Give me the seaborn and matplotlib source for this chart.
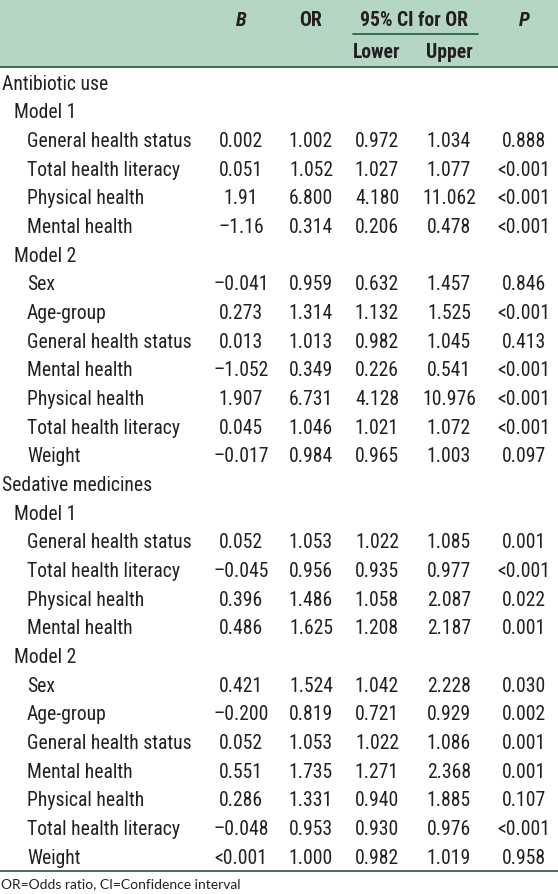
import numpy as np
import pandas as pd
import matplotlib
matplotlib.use("Agg")
import matplotlib.pyplot as plt
import seaborn as sns

# table content
M = "\u2013"   # long minus as in the print
row_labels = ["Antibiotic use", "Model 1",
              "General health status", "Total health literacy", "Physical health", "Mental health",
              "Model 2",
              "Sex", "Age-group", "General health status", "Mental health", "Physical health",
              "Total health literacy", "Weight",
              "Sedative medicines", "Model 1",
              "General health status", "Total health literacy", "Physical health", "Mental health",
              "Model 2",
              "Sex", "Age-group", "General health status", "Mental health", "Physical health",
              "Total health literacy", "Weight"]
row_level = [0, 1, 2, 2, 2, 2, 1, 2, 2, 2, 2, 2, 2, 2,
             0, 1, 2, 2, 2, 2, 1, 2, 2, 2, 2, 2, 2, 2]
col_B = ["", "", "0.002", "0.051", "1.91", M + "1.16", "",
         M + "0.041", "0.273", "0.013", M + "1.052", "1.907", "0.045", M + "0.017",
         "", "", "0.052", M + "0.045", "0.396", "0.486", "",
         "0.421", M + "0.200", "0.052", "0.551", "0.286", M + "0.048", "<0.001"]
col_OR = ["", "", "1.002", "1.052", "6.800", "0.314", "",
          "0.959", "1.314", "1.013", "0.349", "6.731", "1.046", "0.984",
          "", "", "1.053", "0.956", "1.486", "1.625", "",
          "1.524", "0.819", "1.053", "1.735", "1.331", "0.953", "1.000"]
col_lower = ["", "", "0.972", "1.027", "4.180", "0.206", "",
             "0.632", "1.132", "0.982", "0.226", "4.128", "1.021", "0.965",
             "", "", "1.022", "0.935", "1.058", "1.208", "",
             "1.042", "0.721", "1.022", "1.271", "0.940", "0.930", "0.982"]
col_upper = ["", "", "1.034", "1.077", "11.062", "0.478", "",
             "1.457", "1.525", "1.045", "0.541", "10.976", "1.072", "1.003",
             "", "", "1.085", "0.977", "2.087", "2.187", "",
             "2.228", "0.929", "1.086", "2.368", "1.885", "0.976", "1.019"]
col_P = ["", "", "0.888", "<0.001", "<0.001", "<0.001", "",
         "0.846", "<0.001", "0.413", "<0.001", "<0.001", "<0.001", "0.097",
         "", "", "0.001", "<0.001", "0.022", "0.001", "",
         "0.030", "0.002", "0.001", "0.001", "0.107", "<0.001", "0.958"]
footnote = "OR=Odds ratio, CI=Confidence interval"

df = pd.DataFrame({"label": row_labels, "level": row_level, "B": col_B, "OR": col_OR,
                   "Lower": col_lower, "Upper": col_upper, "P": col_P})

sns.set_theme(style="white")
plt.rcParams["font.family"] = ["Roboto Condensed", "DejaVu Sans"]

HEAD_BG = "#b6d6c4"
RULE = "#1e5a3a"
INK = "#231f20"
FS = 14.1

fig = plt.figure(figsize=(5.58, 8.95), dpi=100)
ax = fig.add_axes([0, 0, 1, 1])
ax.set_xlim(0, 558)
ax.set_ylim(895, 0)
ax.axis("off")

# header
ax.axhspan(0, 68, color=HEAD_BG, lw=0)
ax.axhline(68, color=RULE, lw=1.2)
col_x = {"B": 241, "OR": 311, "Lower": 377, "Upper": 449, "P": 524}
hkw = dict(fontsize=FS, fontweight="bold", color=INK, ha="center", va="center")
ax.text(col_x["B"], 20, "B", style="italic", **hkw)
ax.text(col_x["OR"], 20, "OR", **hkw)
ax.text(414, 20, "95% CI for OR", **hkw)
ax.plot([353, 478], [35, 35], color=RULE, lw=1.2)
ax.text(col_x["Lower"], 52, "Lower", **hkw)
ax.text(col_x["Upper"], 52, "Upper", **hkw)
ax.text(col_x["P"], 20, "P", style="italic", **hkw)

# body rows
y0, step = 84, 28.67
indent = {0: 2, 1: 14, 2: 27}
for i, r in df.iterrows():
    y = y0 + i * step
    ax.text(indent[r["level"]], y, r["label"], fontsize=FS, color=INK, ha="left", va="center")
    for c in ["B", "OR", "Lower", "Upper", "P"]:
        if r[c]:
            ax.text(col_x[c], y, r[c], fontsize=FS, color=INK, ha="center", va="center")

ax.axhline(872, color=RULE, lw=1.2)
ax.text(1, 884, footnote, fontsize=10, color=INK, ha="left", va="center", family=["Lato", "DejaVu Sans"])

fig.savefig("out.png", dpi=100)
